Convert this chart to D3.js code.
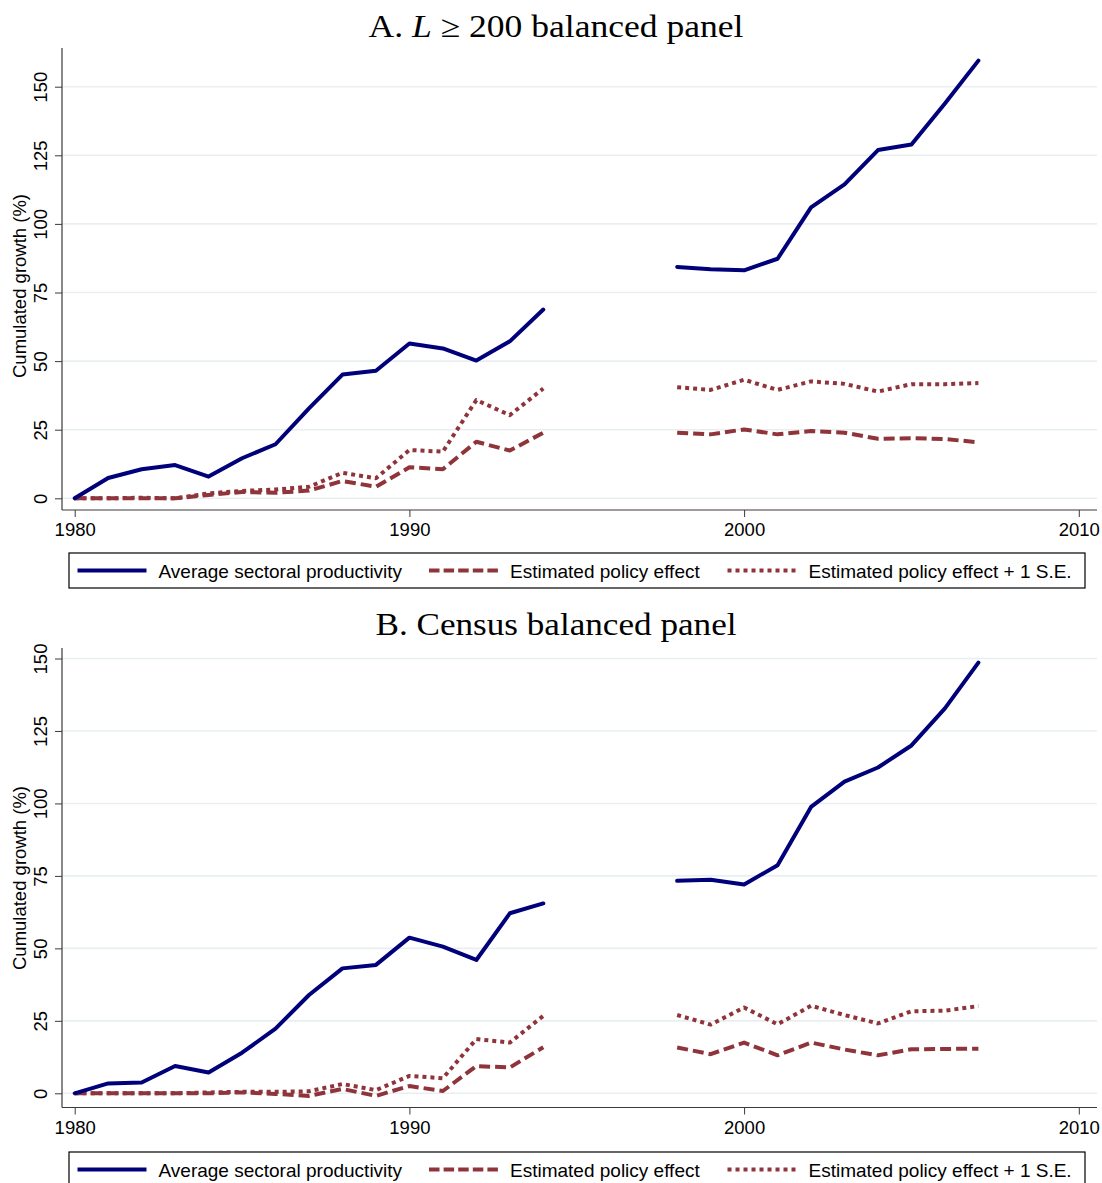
<!DOCTYPE html>
<html>
<head>
<meta charset="utf-8">
<script src="https://cdn.jsdelivr.net/npm/d3@7"></script>
<style>
  html, body { margin: 0; padding: 0; background: #fff; }
  svg { display: block; }
</style>
</head>
<body>
<svg id="chart" width="1102" height="1183"></svg>
<script>
// Years on the x axis; 1995-1997 are missing (gap in every series)
const years = [1980,1981,1982,1983,1984,1985,1986,1987,1988,1989,1990,1991,1992,1993,1994,
               1995,1996,1997,1998,1999,2000,2001,2002,2003,2004,2005,2006,2007];

// Panel A: L >= 200 balanced panel
const aProductivity = [0,7.4,10.6,12.1,7.9,14.6,19.7,32.8,45.1,46.5,56.4,54.6,50.2,57.2,68.8,
                       null,null,null,84.3,83.5,83.1,87.3,106,114.4,126.9,128.9,143.9,159.5];
const aPolicy       = [0,0,0,0,1.2,2.3,2,2.8,6.3,4.2,11.3,10.6,20.6,17.4,23.9,
                       null,null,null,23.9,23.3,25.1,23.3,24.5,23.9,21.7,21.9,21.6,20.4];
const aPolicySE     = [0,0,0.2,0,1.8,2.7,3.2,4.2,9.3,7.3,17.6,17,35.8,30.3,40,
                       null,null,null,40.5,39.5,43.2,39.5,42.6,41.7,38.9,41.6,41.6,42];

// Panel B: Census balanced panel
const bProductivity = [0,3.4,3.7,9.4,7.2,14,22.3,33.9,43.1,44.3,53.7,50.6,46,62.1,65.5,
                       null,null,null,73.3,73.7,72,78.7,98.8,107.5,112.4,120,132.8,148.6];
const bPolicy       = [0,0,0,0,0,0.3,-0.2,-0.9,1.5,-0.9,2.5,0.8,9.4,8.9,15.9,
                       null,null,null,15.8,13.5,17.5,13.1,17.5,15.1,13.1,15.2,15.3,15.4];
const bPolicySE     = [0,0,0,0,0.3,0.5,0.5,0.7,3.2,1.1,6,5.2,18.7,17.5,26.7,
                       null,null,null,27,23.7,29.6,23.8,30.2,27,24.1,28.3,28.5,30.1];

const xTicks = [1980,1990,2000,2010];
const yTicks = [0,25,50,75,100,125,150];
const seriesNames = ["Average sectoral productivity","Estimated policy effect","Estimated policy effect + 1 S.E."];

const NAVY = "#00007a";
const MAROON = "#8f343a";
const GRID = "#e9eff1";
const AXIS = "#3a3a3a";
const SANS = "'Liberation Sans', Arial, sans-serif";
const SERIF = "'Liberation Serif', 'Times New Roman', serif";

const styles = [
  {color: NAVY,   dash: null,   legendDash: null},
  {color: MAROON, dash: "11,5", legendDash: "10.5,4.1"},
  {color: MAROON, dash: "4,4",  legendDash: "4,4"}
];

const svg = d3.select("#chart");

function drawPanel(cfg) {
  const g = svg.append("g");
  const x = d3.scaleLinear().domain([1980, 2010]).range([74.7, 1078.8]);
  const y = d3.scaleLinear().domain([0, 150]).range(cfg.yRange);
  const left = 62, right = 1097;

  // Title (book-style serif, widened to the panel's title width)
  const t = g.append("text")
    .attr("x", 556).attr("y", cfg.titleY)
    .attr("text-anchor", "middle")
    .attr("font-family", SERIF).attr("font-size", 31)
    .attr("textLength", cfg.titleWidth)
    .attr("lengthAdjust", "spacingAndGlyphs")
    .attr("fill", "#000");
  cfg.title.forEach(part => {
    t.append("tspan").text(part.text).attr("font-style", part.italic ? "italic" : null);
  });

  // Horizontal gridlines
  g.append("g").selectAll("line").data(yTicks).join("line")
    .attr("x1", left).attr("x2", right)
    .attr("y1", d => y(d)).attr("y2", d => y(d))
    .attr("stroke", GRID).attr("stroke-width", 1.6);

  // Y axis
  const yAxis = d3.axisLeft(y).tickValues(yTicks).tickSize(7).tickPadding(0).tickFormat(d3.format("d"));
  const ya = g.append("g").attr("transform", `translate(${left},0)`).call(yAxis);
  ya.select(".domain").remove();
  ya.selectAll(".tick line").attr("stroke", AXIS).attr("stroke-width", 1);
  ya.selectAll(".tick text")
    .attr("font-family", SANS).attr("font-size", 18.5).attr("fill", "#000")
    .attr("x", null).attr("dy", null)
    .attr("text-anchor", "middle")
    .attr("transform", "translate(-15,0) rotate(-90)");
  g.append("line").attr("x1", left).attr("x2", left)
    .attr("y1", cfg.axisTop).attr("y2", cfg.axisY)
    .attr("stroke", AXIS).attr("stroke-width", 1.2);

  // Y axis title
  g.append("text")
    .attr("transform", `translate(26,${cfg.yTitleY}) rotate(-90)`)
    .attr("text-anchor", "middle")
    .attr("font-family", SANS).attr("font-size", 18.5).attr("fill", "#000")
    .text("Cumulated growth (%)");

  // X axis
  const xAxis = d3.axisBottom(x).tickValues(xTicks).tickSize(7).tickPadding(6).tickFormat(d3.format("d"));
  const xa = g.append("g").attr("transform", `translate(0,${cfg.axisY})`).call(xAxis);
  xa.select(".domain").remove();
  xa.selectAll(".tick line").attr("stroke", AXIS).attr("stroke-width", 1);
  xa.selectAll(".tick text").attr("font-family", SANS).attr("font-size", 18.5).attr("fill", "#000");
  g.append("line").attr("x1", left).attr("x2", right)
    .attr("y1", cfg.axisY).attr("y2", cfg.axisY)
    .attr("stroke", AXIS).attr("stroke-width", 1.2);

  // Series lines
  const line = d3.line()
    .defined(d => d.v !== null)
    .x(d => x(d.year)).y(d => y(d.v));
  // draw in reverse so productivity sits on top
  [2, 1, 0].forEach(i => {
    const data = years.map((yr, k) => ({year: yr, v: cfg.series[i][k]}));
    g.append("path").datum(data)
      .attr("d", line)
      .attr("fill", "none")
      .attr("stroke", styles[i].color)
      .attr("stroke-width", 4)
      .attr("stroke-linejoin", "round")
      .attr("stroke-linecap", i === 0 ? "round" : "butt")
      .attr("stroke-dasharray", styles[i].dash);
  });

  // Legend
  const ly = cfg.legendTop;
  const lg = g.append("g");
  lg.append("rect").attr("x", 69).attr("y", ly).attr("width", 1016).attr("height", 35)
    .attr("fill", "#fff").attr("stroke", "#000").attr("stroke-width", 1.2);
  const sampleX = [77.5, 429, 727.5];
  seriesNames.forEach((name, i) => {
    lg.append("line")
      .attr("x1", sampleX[i]).attr("x2", sampleX[i] + 69)
      .attr("y1", ly + 17.5).attr("y2", ly + 17.5)
      .attr("stroke", styles[i].color).attr("stroke-width", 4)
      .attr("stroke-dasharray", styles[i].legendDash);
    lg.append("text")
      .attr("x", sampleX[i] + 81).attr("y", ly + 24.5)
      .attr("font-family", SANS).attr("font-size", 19).attr("fill", "#000")
      .text(name);
  });
}

drawPanel({
  title: [{text: "A. "}, {text: "L", italic: true}, {text: " \u2265 200 balanced panel"}],
  titleY: 37,
  titleWidth: 375,
  yRange: [498.3, 86.7],
  axisTop: 48,
  axisY: 510,
  yTitleY: 286,
  legendTop: 553,
  series: [aProductivity, aPolicy, aPolicySE]
});

drawPanel({
  title: [{text: "B. Census balanced panel"}],
  titleY: 635,
  titleWidth: 361,
  yRange: [1093.3, 658.5],
  axisTop: 648,
  axisY: 1107.5,
  yTitleY: 878,
  legendTop: 1152,
  series: [bProductivity, bPolicy, bPolicySE]
});
</script>
</body>
</html>
